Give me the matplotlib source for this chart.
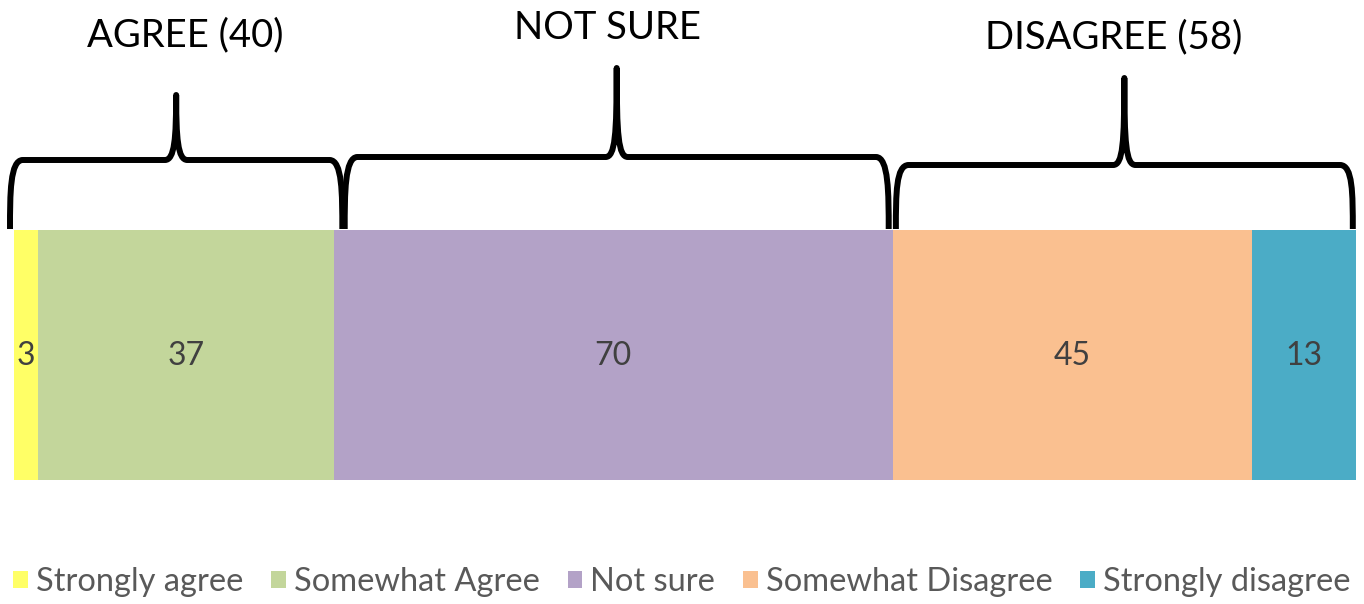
import matplotlib.pyplot as plt
import numpy as np
from matplotlib.path import Path
from matplotlib.patches import PathPatch, Patch

plt.rcParams['font.family'] = ['Lato', 'DejaVu Sans']

# Data
categories = ["Strongly agree", "Somewhat Agree", "Not sure", "Somewhat Disagree", "Strongly disagree"]
counts = [3, 37, 70, 45, 13]
colors = ["#FFFF66", "#C3D69B", "#B3A2C7", "#FAC090", "#4BACC6"]

# Groups for the braces: (first category index, last category index)
group_names = ["AGREE", "NOT SURE", "DISAGREE"]
group_spans = [(0, 1), (2, 2), (3, 4)]
group_show_total = [True, False, True]


def brace(ax, x0, x1, y_base, y_line, y_tip, lw=4.3):
    """Curly brace opening downwards, drawn in data x / pixel-like y units."""
    xm = (x0 + x1) / 2
    r = 1.6      # end curve width (data units)
    c = 1.4      # cusp half width
    verts = [
        (x0, y_base),
        (x0, y_base - 35), (x0, y_line), (x0 + r, y_line),
        (xm - c, y_line),
        (xm - 0.2, y_line), (xm, y_line - 22), (xm, y_tip),
        (xm, y_line - 22), (xm + 0.2, y_line), (xm + c, y_line),
        (x1 - r, y_line),
        (x1, y_line), (x1, y_base - 35), (x1, y_base),
    ]
    codes = [Path.MOVETO,
             Path.CURVE4, Path.CURVE4, Path.CURVE4,
             Path.LINETO,
             Path.CURVE4, Path.CURVE4, Path.CURVE4,
             Path.CURVE4, Path.CURVE4, Path.CURVE4,
             Path.LINETO,
             Path.CURVE4, Path.CURVE4, Path.CURVE4]
    ax.add_patch(PathPatch(Path(verts, codes), fill=False, lw=lw, clip_on=False,
                           edgecolor='black', capstyle='butt', joinstyle='round'))


fig = plt.figure(figsize=(13.64, 6.04), dpi=100)
ax = fig.add_axes([14 / 1364, 0, 1342 / 1364, 1])
total = sum(counts)
ax.set_xlim(0, total)
ax.set_ylim(604, 0)
ax.axis('off')

# Stacked bar
left = 0
for name, val, col in zip(categories, counts, colors):
    ax.barh(355, val, left=left, height=250, color=col, edgecolor='none')
    ax.text(left + val / 2, 356, str(val), ha='center', va='center',
            fontsize=23, color='#404040')
    left += val

# Braces and group titles
cum = np.concatenate([[0], np.cumsum(counts)])
brace_pads = [(-0.5, 1.1), (1.4, -0.5), (0.4, -0.4)]
brace_lines = [160, 157, 165]
brace_tips = [95, 68, 78]
title_y = [35, 28, 37]
title_dx = [1.4, -0.7, -1.3]
for name, (i0, i1), show, pad, yl, yt, ty, dx in zip(group_names, group_spans, group_show_total,
                                                     brace_pads, brace_lines, brace_tips,
                                                     title_y, title_dx):
    x0 = cum[i0] + pad[0]
    x1 = cum[i1 + 1] + pad[1]
    brace(ax, x0, x1, 229, yl, yt)
    grp_total = sum(counts[i0:i1 + 1])
    label = f"{name} ({grp_total})" if show else name
    ax.text((cum[i0] + cum[i1 + 1]) / 2 + dx, ty, label, ha='center', va='center',
            fontsize=27.5, color='black')

# Legend
handles = [Patch(facecolor=c, edgecolor='none') for c in colors]
fig.legend(handles, categories, loc='center', bbox_to_anchor=(0.5, 1 - 582 / 604),
           ncol=5, frameon=False, fontsize=23.5, handlelength=0.45, handleheight=0.45,
           handletextpad=0.25, columnspacing=0.85, labelcolor='#595959')

fig.savefig("out.png", dpi=100)
